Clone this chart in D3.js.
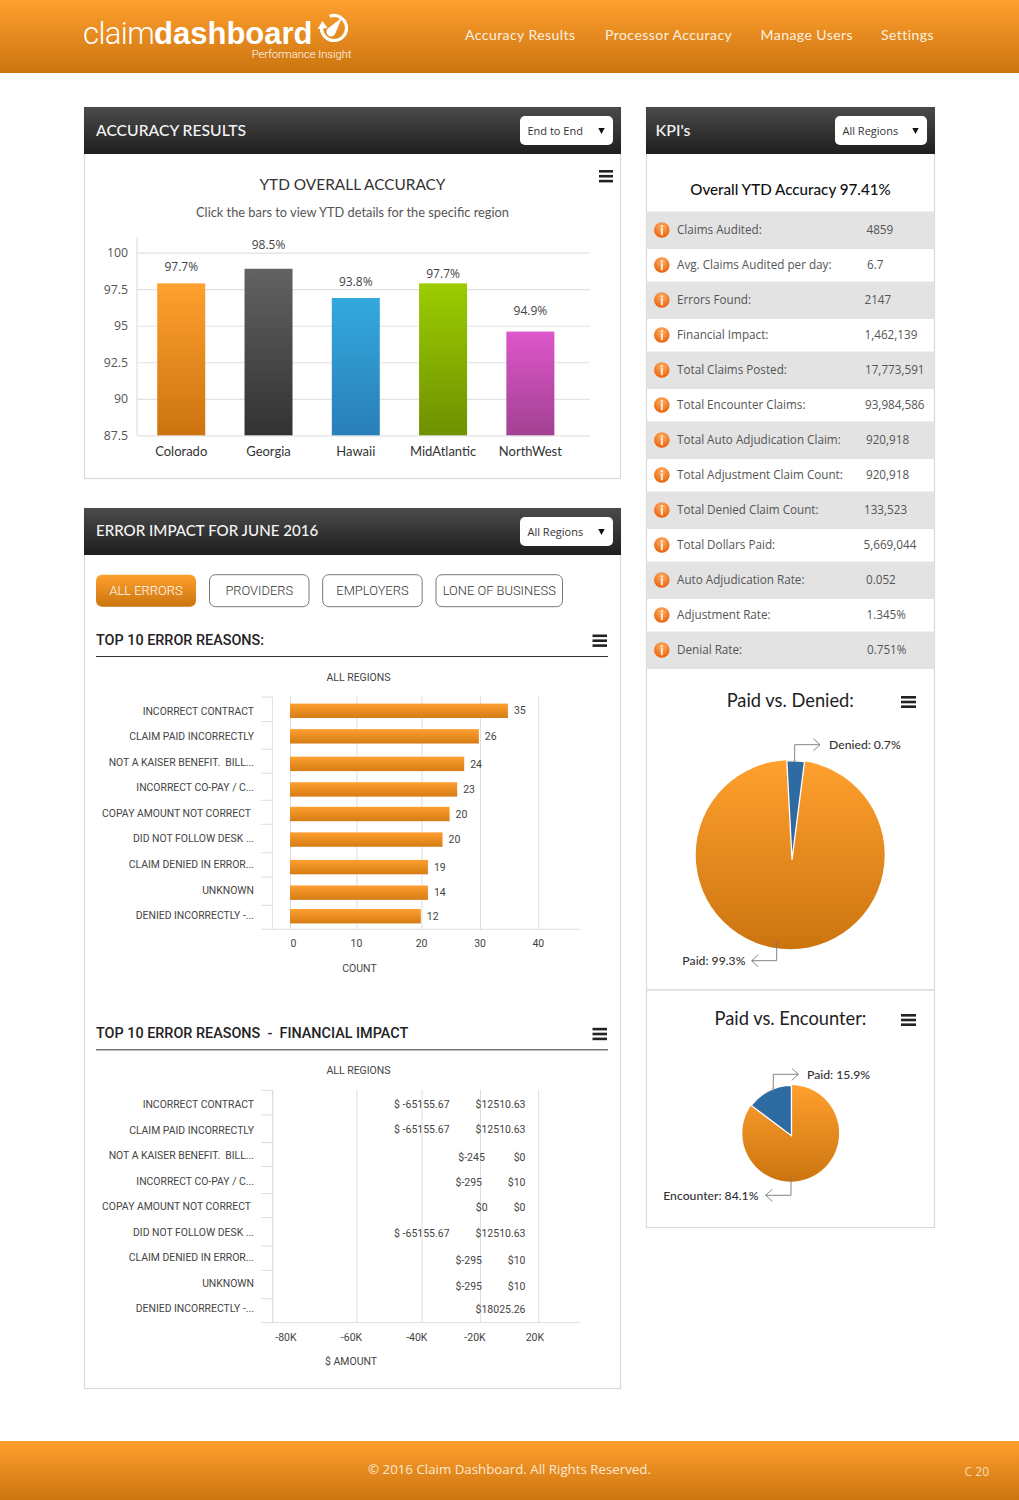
<!DOCTYPE html>
<html>
<head>
<meta charset="utf-8">
<title>Claim Dashboard</title>
<script src="https://cdn.jsdelivr.net/npm/d3@7"></script>
<style>
  html, body { margin: 0; padding: 0; background: #fff; }
  svg { display: block; }
  text { font-family: Lato, sans-serif; white-space: pre; }
  .os { font-family: "Open Sans", sans-serif; }
  .rb { font-family: Roboto, sans-serif; }
</style>
</head>
<body>
<svg id="page" width="1019" height="1500"></svg>
<script>
var svg = d3.select('#page');
var defs = svg.append('defs');

function gradient(id, top, bottom) {
  var g = defs.append('linearGradient').attr('id', id).attr('x1', 0).attr('y1', 0).attr('x2', 0).attr('y2', 1);
  g.append('stop').attr('offset', '0%').attr('stop-color', top);
  g.append('stop').attr('offset', '100%').attr('stop-color', bottom);
}
gradient('orange', '#ffa02f', '#cb740f');
gradient('dark', '#4b4b4b', '#1e1e1e');
gradient('grey', '#626262', '#323232');
gradient('blue', '#33a9dd', '#2a7fb8');
gradient('green', '#9ccc00', '#6e9100');
gradient('pink', '#dd56ca', '#a24192');
gradient('barOrange', '#ff9f30', '#d57c14');
var ig = defs.append('radialGradient').attr('id', 'icon').attr('cx', '50%').attr('cy', '30%').attr('r', '70%');
ig.append('stop').attr('offset', '0%').attr('stop-color', '#ffb26a');
ig.append('stop').attr('offset', '100%').attr('stop-color', '#ea5f05');

function label(x, y, str, opts) {
  opts = opts || {};
  return svg.append('text')
    .attr('class', opts.cls || null)
    .attr('x', x).attr('y', y)
    .attr('dy', '0.35em')
    .attr('text-anchor', opts.anchor || 'start')
    .attr('font-size', opts.size || 12)
    .attr('font-weight', opts.weight || 400)
    .attr('letter-spacing', opts.spacing || null)
    .attr('fill', opts.fill || '#444')
    .text(str);
}

function hamburger(x, y, w, h) {
  [0, 1, 2].forEach(function (i) {
    svg.append('rect').attr('x', x).attr('y', y + i * (h - 2.6) / 2)
      .attr('width', w).attr('height', 2.6).attr('fill', '#222');
  });
}

function panel(x, y, w, h, title, select) {
  svg.append('rect').attr('x', x + 0.5).attr('y', y + 0.5).attr('width', w - 1).attr('height', h - 1)
    .attr('fill', '#fff').attr('stroke', '#d9d9d9').attr('stroke-width', 1.2);
  svg.append('rect').attr('x', x).attr('y', y).attr('width', w).attr('height', 47).attr('fill', 'url(#dark)');
  label(select.titleX, y + 23.2, title, { size: select.titleSize, weight: 500, fill: '#f4f4f4' });
  svg.append('rect').attr('x', select.x).attr('y', y + 9).attr('width', select.w).attr('height', 29).attr('rx', 5).attr('fill', '#fff');
  label(select.x + 7.5, y + 24, select.text, { cls: 'os', size: 11, fill: '#333' });
  var ax = select.x + select.w - 11.5, ay = y + 24;
  svg.append('path').attr('d', d3.line()([[ax - 3.2, ay - 3], [ax + 3.2, ay - 3], [ax, ay + 3]])).attr('fill', '#111');
}

// ---------- header and footer ----------
svg.append('rect').attr('width', 1019).attr('height', 73).attr('fill', 'url(#orange)');
svg.append('rect').attr('y', 1441).attr('width', 1019).attr('height', 59).attr('fill', 'url(#orange)');

var logo = svg.append('text').attr('class', 'rb').attr('x', 83).attr('y', 43.5).attr('font-size', 31).attr('fill', '#fff');
logo.append('tspan').attr('font-weight', 300).attr('letter-spacing', -0.6).text('claim');
logo.append('tspan').attr('font-weight', 700).style('font-family', '"Liberation Sans", sans-serif').text('dashboard');
label(351.5, 54, 'Performance Insight', { cls: 'rb', size: 11.2, weight: 300, anchor: 'end', fill: '#fff' });
// logo gauge
svg.append('path').attr('fill', 'none').attr('stroke', '#fff').attr('stroke-width', 3.2)
  .attr('transform', 'translate(334,28)')
  .attr('d', d3.arc()({ innerRadius: 12.5, outerRadius: 12.5, startAngle: -0.35, endAngle: 4.75 }));
svg.append('path').attr('fill', '#fff').attr('d', 'M342,17.5 L335.5,33 A4.6,4.6 0 1 1 328.5,28 Z');
svg.append('path').attr('fill', '#fff').attr('d', 'M317.5,29 L327.5,28 L322.5,21 Z');

var nav = [
  { text: 'Accuracy Results', x: 465 },
  { text: 'Processor Accuracy', x: 605 },
  { text: 'Manage Users', x: 760.5 },
  { text: 'Settings', x: 881 },
];
nav.forEach(function (n) {
  label(n.x, 35.5, n.text, { size: 14, spacing: 0.45, fill: '#fdf0e0' });
});

label(509.5, 1469.5, '\u00a9 2016 Claim Dashboard. All Rights Reserved.', { cls: 'os', size: 13.3, anchor: 'middle', fill: '#fde9d2' });
label(989, 1472, 'C 20', { cls: 'os', size: 12, anchor: 'end', fill: '#fbdcb6' });

// ---------- accuracy results ----------
panel(84, 107, 537, 372, 'ACCURACY RESULTS', { titleX: 96, titleSize: 15.7, x: 520, w: 93, text: 'End to End' });
label(352.5, 185, 'YTD OVERALL ACCURACY', { size: 15.4, anchor: 'middle', fill: '#333' });
label(352.5, 213, 'Click the bars to view YTD details for the specific region', { size: 12.8, anchor: 'middle', fill: '#555' });
hamburger(599, 170, 14, 12.4);

// value is the drawn height, shown is the printed label, the two differ in the source
var accuracy = [
  { region: 'Colorado', value: 97.9, shown: '97.7%', gap: 16.5, fill: 'orange' },
  { region: 'Georgia', value: 98.9, shown: '98.5%', gap: 24, fill: 'grey' },
  { region: 'Hawaii', value: 96.9, shown: '93.8%', gap: 16.5, fill: 'blue' },
  { region: 'MidAtlantic', value: 97.9, shown: '97.7%', gap: 9.5, fill: 'green' },
  { region: 'NorthWest', value: 94.6, shown: '94.9%', gap: 21, fill: 'pink' },
];
var accY = d3.scaleLinear().domain([87.5, 100]).range([435.3, 252.7]);
var accX = d3.scaleBand().domain(accuracy.map((d) => d.region)).range([137.6, 574]).paddingInner(0.45).paddingOuter(0.225);

var accGrid = svg.append('g').attr('transform', 'translate(137,0)')
  .call(d3.axisLeft(accY).tickValues([87.5, 90, 92.5, 95, 97.5, 100]).tickSize(0).tickPadding(9).tickFormat((d) => d));
accGrid.select('.domain').remove();
accGrid.selectAll('text').attr('class', 'os').attr('font-size', 12.3).attr('fill', '#555').style('font-family', '"Open Sans", sans-serif');
accGrid.selectAll('.tick').append('line').attr('x2', 453).attr('stroke', '#e2e2e2').attr('stroke-width', 1.2);
svg.append('line').attr('x1', 137).attr('x2', 137).attr('y1', 237).attr('y2', 435.3).attr('stroke', '#e2e2e2').attr('stroke-width', 1.2);

svg.selectAll('.accBar').data(accuracy).enter().append('rect')
  .attr('class', 'accBar')
  .attr('x', (d) => accX(d.region))
  .attr('y', (d) => accY(d.value))
  .attr('width', accX.bandwidth())
  .attr('height', (d) => accY(87.5) - accY(d.value))
  .attr('fill', (d) => 'url(#' + d.fill + ')');
accuracy.forEach(function (d) {
  var cx = accX(d.region) + accX.bandwidth() / 2;
  label(cx, accY(d.value) - d.gap, d.shown, { cls: 'os', size: 12, anchor: 'middle', fill: '#444' });
  label(cx, 451.5, d.region, { size: 13, anchor: 'middle', fill: '#333' });
});

// ---------- error impact ----------
panel(84, 508, 537, 881, 'ERROR IMPACT FOR JUNE 2016', { titleX: 96, titleSize: 15.1, x: 520, w: 93, text: 'All Regions' });

var buttons = [
  { text: 'ALL ERRORS', x: 96, w: 100, on: true },
  { text: 'PROVIDERS', x: 209.5, w: 99.5 },
  { text: 'EMPLOYERS', x: 322.7, w: 99.5 },
  { text: 'LONE OF BUSINESS', x: 436, w: 126.5 },
];
buttons.forEach(function (b) {
  svg.append('rect').attr('x', b.x).attr('y', 574.7).attr('width', b.w).attr('height', 32).attr('rx', 6)
    .attr('fill', b.on ? 'url(#orange)' : '#fff').attr('stroke', b.on ? 'none' : '#777').attr('stroke-width', 1);
  label(b.x + b.w / 2, 590.5, b.text, { cls: 'rb', size: 12.9, weight: 300, anchor: 'middle', fill: b.on ? '#fff' : '#333' });
});

var reasons = ['INCORRECT CONTRACT', 'CLAIM PAID INCORRECTLY', 'NOT A KAISER BENEFIT.  BILL...', 'INCORRECT CO-PAY / C...',
  'COPAY AMOUNT NOT CORRECT', 'DID NOT FOLLOW DESK ...', 'CLAIM DENIED IN ERROR...', 'UNKNOWN', 'DENIED INCORRECTLY -...'];
var labelShift = [0, 0, 0, 0, -3, 0, 0, 0, 0];
var tickNudge = [-1, -1.9, 0.2, -1.4, 0.1, -1.5, 1.4, 0.1, 2.9, 1.3];
var rowNudge = [0, 0, 2, 2, 1, 1, 3, 3, 1];

function chartFrame(dy, heading, title, xFormat, xTicks, xScale, tickDx, xTitle, titleX) {
  var g = svg.append('g').attr('transform', 'translate(0,' + dy + ')');
  var y = d3.scaleBand().domain(reasons).range([698, 928]);

  label(96, 640 + dy, heading, { cls: 'rb', size: 14.4, weight: 500, fill: '#222' });
  svg.append('line').attr('x1', 96).attr('x2', 608).attr('y1', 656.5 + dy).attr('y2', 656.5 + dy).attr('stroke', '#333').attr('stroke-width', 1);
  hamburger(592.5, 634.5 + dy, 14.5, 12.4);
  label(358.5, 677 + dy, title, { cls: 'rb', size: 10.5, anchor: 'middle', fill: '#444' });

  // gridlines through the bottom axis
  var axis = g.append('g').attr('transform', 'translate(0,929.3)')
    .call(d3.axisBottom(xScale).tickValues(xTicks).tickSize(0).tickPadding(10.5).tickFormat(xFormat));
  axis.select('.domain').remove();
  axis.selectAll('.tick').append('line').attr('y2', -233).attr('stroke', '#dedede').attr('stroke-width', 1);
  axis.selectAll('text').attr('dx', (d, i) => tickDx[i]).attr('font-size', 10.5).attr('fill', '#444').style('font-family', 'Roboto, sans-serif');

  g.append('line').attr('x1', 272.4).attr('x2', 272.4).attr('y1', 697).attr('y2', 929.3).attr('stroke', '#dedede');
  g.append('line').attr('x1', 261).attr('x2', 580).attr('y1', 929.3).attr('y2', 929.3).attr('stroke', '#dedede');
  y.domain().forEach(function (r, i) {
    var ty = y(r) + tickNudge[i];
    g.append('line').attr('x1', 261).attr('x2', 272.4).attr('y1', ty).attr('y2', ty).attr('stroke', '#dedede');
  });
  g.selectAll('.cat').data(reasons).enter().append('text')
    .attr('class', 'rb cat')
    .attr('x', (d, i) => 254 + labelShift[i])
    .attr('y', (d) => y(d) + y.bandwidth() / 2 + 0.3)
    .attr('dy', '0.35em').attr('text-anchor', 'end').attr('font-size', 10.4).attr('fill', '#444')
    .text((d) => d);
  label(titleX, 968 + dy, xTitle, { cls: 'rb', size: 10.5, anchor: 'middle', fill: '#444' });
  return { g: g, y: y };
}

// TOP 10 ERROR REASONS
// len is the length, shown is the printed count
var errors = [
  { len: 34.8, shown: 35 }, { len: 29.8, shown: 26 }, { len: 27.3, shown: 24 },
  { len: 26.1, shown: 23 }, { len: 24.8, shown: 20 }, { len: 23.6, shown: 20 },
  { len: 21.1, shown: 19 }, { len: 21.1, shown: 14 }, { len: 19.9, shown: 12 },
];
// the source axis is not evenly spaced
var countX = d3.scaleLinear().domain([0, 10, 20, 30, 40]).range([290, 356.4, 421.5, 480, 538.2]);
var top10 = chartFrame(0, 'TOP 10 ERROR REASONS:', 'ALL REGIONS', (d) => d, [0, 10, 20, 30, 40], countX, [3, -0.4, -0.4, -0.4, -0.4], 'COUNT', 359.5);

top10.g.selectAll('.errBar').data(errors).enter().append('rect')
  .attr('class', 'errBar')
  .attr('x', countX(0))
  .attr('y', (d, i) => top10.y(reasons[i]) + top10.y.bandwidth() / 2 + rowNudge[i] - 7.2)
  .attr('width', (d) => countX(d.len) - countX(0))
  .attr('height', 14.4)
  .attr('fill', 'url(#barOrange)');
top10.g.selectAll('.errVal').data(errors).enter().append('text')
  .attr('class', 'rb errVal')
  .attr('x', (d) => countX(d.len) + 6)
  .attr('y', (d, i) => top10.y(reasons[i]) + top10.y.bandwidth() / 2 + rowNudge[i])
  .attr('dy', '0.35em').attr('font-size', 10.5).attr('fill', '#444')
  .text((d) => d.shown);

// TOP 10 ERROR REASONS - FINANCIAL IMPACT
// bars are invisible in the source, only the labels show. negAt/posAt are label positions on the axis, in thousands
var financial = [
  { neg: '$ -65155.67', negAt: -30.4, pos: '$12510.63', posAt: 11.3 },
  { neg: '$ -65155.67', negAt: -30.4, pos: '$12510.63', posAt: 11.3 },
  { neg: '$-245', negAt: -16.7, pos: '$0', posAt: 11.3 },
  { neg: '$-295', negAt: -18.6, pos: '$10', posAt: 11.3 },
  { neg: '$0', negAt: -14.8, pos: '$0', posAt: 11.3 },
  { neg: '$ -65155.67', negAt: -30.4, pos: '$12510.63', posAt: 11.3 },
  { neg: '$-295', negAt: -18.6, pos: '$10', posAt: 11.3 },
  { neg: '$-295', negAt: -18.6, pos: '$10', posAt: 11.3 },
  { neg: null, negAt: 0, pos: '$18025.26', posAt: 11.3 },
];
var amountX = d3.scaleLinear().domain([-80, -60, -40, -20, 20]).range([272.4, 356.4, 421.5, 480, 538.2]);
var fin = chartFrame(393.3, 'TOP 10 ERROR REASONS  -  FINANCIAL IMPACT', 'ALL REGIONS', (d) => d + 'K', [-80, -60, -40, -20, 20], amountX, [13, -5.4, -5.2, -5.5, -3.8], '$ AMOUNT', 351);

financial.forEach(function (d, i) {
  var cy = fin.y(reasons[i]) + fin.y.bandwidth() / 2 + rowNudge[i];
  [[d.neg, d.negAt], [d.pos, d.posAt]].forEach(function (p) {
    if (p[0] === null) return;
    fin.g.append('text').attr('class', 'rb')
      .attr('x', amountX(p[1])).attr('y', cy).attr('dy', '0.35em')
      .attr('text-anchor', 'end').attr('font-size', 10.5).attr('fill', '#444')
      .text(p[0]);
  });
});

// ---------- KPI's ----------
panel(646, 107, 289, 1121, "KPI's", { titleX: 655.5, titleSize: 16, x: 835, w: 92, text: 'All Regions' });
label(790.5, 189.5, 'Overall YTD Accuracy 97.41%', { size: 15.2, weight: 500, anchor: 'middle', fill: '#111' });

var kpis = [
  ['Claims Audited:', '4859', 866.5],
  ['Avg. Claims Audited per day:', '6.7', 867],
  ['Errors Found:', '2147', 864.5],
  ['Financial Impact:', '1,462,139', 864.5],
  ['Total Claims Posted:', '17,773,591', 865],
  ['Total Encounter Claims:', '93,984,586', 865],
  ['Total Auto Adjudication Claim:', '920,918', 866],
  ['Total Adjustment Claim Count:', '920,918', 866],
  ['Total Denied Claim Count:', '133,523', 864],
  ['Total Dollars Paid:', '5,669,044', 863.5],
  ['Auto Adjudication Rate:', '0.052', 866],
  ['Adjustment Rate:', '1.345%', 866.5],
  ['Denial Rate:', '0.751%', 867],
];
kpis.forEach(function (k, i) {
  var cy = 230 + i * 35;
  if (i % 2 === 0) {
    svg.append('rect').attr('x', 646.5).attr('y', cy - 18.5).attr('width', 288).attr('height', 37.5).attr('fill', '#e3e3e3');
  }
  svg.append('circle').attr('cx', 661.8).attr('cy', cy).attr('r', 7.8).attr('fill', 'url(#icon)');
  svg.append('rect').attr('x', 660.9).attr('y', cy - 4.8).attr('width', 1.9).attr('height', 1.9).attr('fill', '#fff').attr('opacity', 0.85);
  svg.append('rect').attr('x', 660.9).attr('y', cy - 1.8).attr('width', 1.9).attr('height', 7).attr('fill', '#fff').attr('opacity', 0.85);
  label(677, cy + 0.4, k[0], { cls: 'os', size: 11.7, fill: '#555' });
  label(k[2], cy + 0.4, k[1], { cls: 'os', size: 11.7, fill: '#555' });
});

// ---------- pies ----------
svg.append('line').attr('x1', 646).attr('x2', 935).attr('y1', 990).attr('y2', 990).attr('stroke', '#d9d9d9').attr('stroke-width', 1.5);

function drawPie(opt) {
  // share is the slice as drawn, text is the printed label
  var pie = d3.pie().sort(null).value((d) => d.share).startAngle(opt.start).endAngle(opt.start + 2 * Math.PI);
  var arcs = pie(opt.slices);
  var g = svg.append('g').attr('transform', 'translate(' + opt.cx + ',' + opt.cy + ')');
  // paid area is one full disc, then the blue slice sits on it
  g.append('circle').attr('r', opt.r).attr('fill', 'url(#orange)');
  g.selectAll('path').data(arcs.filter((d) => d.data.color)).enter().append('path')
    .attr('transform', 'translate(' + opt.dx + ',' + opt.dy + ')')
    .attr('d', d3.arc().innerRadius(0).outerRadius(opt.r + opt.extra))
    .attr('fill', (d) => d.data.color)
    .attr('stroke', '#fff').attr('stroke-width', 1.3);
  opt.leaders.forEach(function (l) {
    svg.append('path').attr('fill', 'none').attr('stroke', '#777').attr('stroke-width', 0.9).attr('d', d3.line()(l.pts));
    var e = l.pts[l.pts.length - 1], s = l.dir * 6.5;
    svg.append('path').attr('fill', 'none').attr('stroke', '#777').attr('stroke-width', 0.9)
      .attr('d', d3.line()([[e[0] - s, e[1] - 6], e, [e[0] - s, e[1] + 6]]));
    label(l.tx, e[1], l.text, { size: 12.2, anchor: l.anchor, fill: '#333', weight: 500 });
  });
}

label(790.3, 701, 'Paid vs. Denied:', { size: 18.3, anchor: 'middle', fill: '#222' });
hamburger(901, 696, 15, 12);
drawPie({
  cx: 790.2, cy: 854.8, r: 94.5, start: -3 * Math.PI / 180, dx: 1.8, dy: 5, extra: 4.5,
  slices: [{ name: 'Denied', share: 2.85, color: '#2f6ba3' }, { name: 'Paid', share: 97.15 }],
  leaders: [
    { pts: [[794.7, 762], [794.7, 744.7], [820, 744.7]], dir: 1, tx: 829, anchor: 'start', text: 'Denied: 0.7%' },
    { pts: [[776.7, 941.7], [776.7, 960.7], [751.7, 960.7]], dir: -1, tx: 745.5, anchor: 'end', text: 'Paid: 99.3%' },
  ],
});

label(790.5, 1019, 'Paid vs. Encounter:', { size: 18.3, anchor: 'middle', fill: '#222' });
hamburger(901, 1014, 15, 12);
drawPie({
  cx: 790.7, cy: 1133.3, r: 48.4, start: -53 * Math.PI / 180, dx: 0.8, dy: 2.5, extra: 2,
  slices: [{ name: 'Paid', share: 14.7, color: '#2f6ba3' }, { name: 'Encounter', share: 85.3 }],
  leaders: [
    { pts: [[773.3, 1091.7], [773.3, 1074.3], [798.3, 1074.3]], dir: 1, tx: 807, anchor: 'start', text: 'Paid: 15.9%' },
    { pts: [[791, 1176.7], [791, 1195.3], [765.7, 1195.3]], dir: -1, tx: 758.5, anchor: 'end', text: 'Encounter: 84.1%' },
  ],
});
</script>
</body>
</html>
